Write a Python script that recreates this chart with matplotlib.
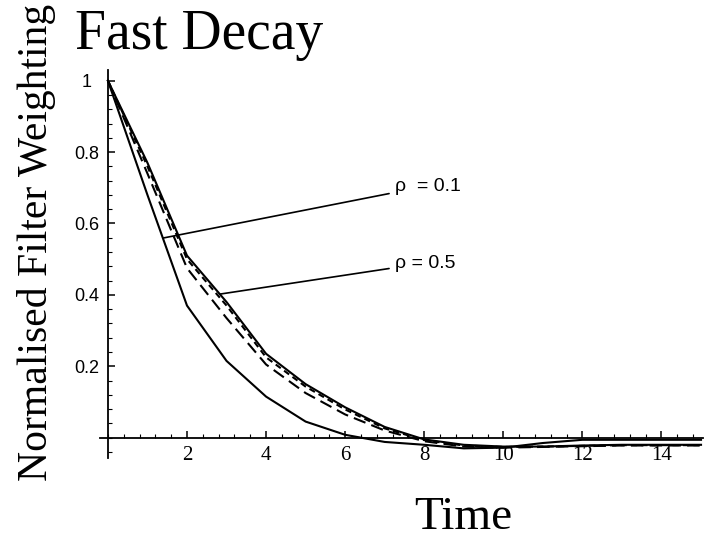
import numpy as np
import matplotlib
matplotlib.use("Agg")
import matplotlib.pyplot as plt
from matplotlib.ticker import FixedLocator, MultipleLocator, FuncFormatter

# filter weights, one value per time step
time = np.arange(0, 16)
rho_01 = [1.0, 0.68, 0.37, 0.215, 0.115, 0.045, 0.008, -0.012, -0.02, -0.03,
          -0.028, -0.015, -0.006, -0.006, -0.006, -0.006]
rho_05_solid = [1.0, 0.77, 0.51, 0.38, 0.235, 0.15, 0.085, 0.03, -0.005, -0.02,
                -0.025, -0.025, -0.022, -0.02, -0.02, -0.02]
rho_05_dash_a = [1.0, 0.76, 0.50, 0.37, 0.225, 0.143, 0.079, 0.026, -0.007, -0.022,
                 -0.026, -0.025, -0.023, -0.021, -0.021, -0.021]
rho_05_dash_b = [1.0, 0.74, 0.475, 0.335, 0.205, 0.125, 0.065, 0.02, -0.01, -0.025,
                 -0.028, -0.026, -0.024, -0.022, -0.022, -0.022]

x_ticks = [2, 4, 6, 8, 10, 12, 14]
y_ticks = [0.2, 0.4, 0.6, 0.8, 1.0]

serif = "Liberation Serif"
sans = "Liberation Sans"

fig = plt.figure(figsize=(7.04, 5.38), dpi=100)
ax = fig.add_axes([100 / 704, 80 / 538, 603 / 704, 388 / 538])

# curves
ax.plot(time, rho_01, color="black", lw=1.5)
ax.plot(time, rho_05_solid, color="black", lw=1.5)
ax.plot(time, rho_05_dash_a, color="black", lw=1.5, dashes=(3, 2))
ax.plot(time, rho_05_dash_b, color="black", lw=1.5, dashes=(6, 3))

ax.set_xlim(-0.2, 15.05)
ax.set_ylim(-0.057, 1.03)

# Mathematica style axes through the origin
for side in ("top", "right"):
    ax.spines[side].set_visible(False)
ax.spines["left"].set_position(("data", 0))
ax.spines["bottom"].set_position(("data", 0))
ax.spines["left"].set_linewidth(1.3)
ax.spines["bottom"].set_linewidth(1.3)

ax.xaxis.set_major_locator(FixedLocator(x_ticks))
ax.xaxis.set_minor_locator(MultipleLocator(0.4))
ax.yaxis.set_major_locator(FixedLocator(y_ticks))
ax.yaxis.set_minor_locator(MultipleLocator(0.04))
ax.yaxis.set_major_formatter(FuncFormatter(lambda v, p: "1" if abs(v - 1) < 1e-9 else f"{v:g}"))

ax.tick_params(axis="both", which="major", direction="in", length=5, width=1.1)
ax.tick_params(axis="both", which="minor", direction="in", length=3, width=0.8)
ax.tick_params(axis="x", which="major", pad=6)
ax.tick_params(axis="y", which="major", pad=15)
for lbl in ax.get_xticklabels():
    lbl.set_fontfamily(serif)
    lbl.set_fontsize(15)
for lbl in ax.get_yticklabels():
    lbl.set_fontfamily(sans)
    lbl.set_fontsize(13)
    lbl.set_horizontalalignment("center")

# labels pointing at the curves
ax.annotate("\u03c1  = 0.1", xy=(1.39, np.interp(1.39, time, rho_01)), xytext=(7.25, 0.705),
            fontsize=14, family=sans, va="center", ha="left",
            arrowprops=dict(arrowstyle="-", color="black", lw=1.2, shrinkA=2, shrinkB=0))
ax.annotate("\u03c1 = 0.5", xy=(2.83, np.interp(2.83, time, rho_05_solid)), xytext=(7.25, 0.489),
            fontsize=14, family=sans, va="center", ha="left",
            arrowprops=dict(arrowstyle="-", color="black", lw=1.2, shrinkA=2, shrinkB=0))

fig.text(75 / 704, 1 - 49 / 538, "Fast Decay", family=serif, fontsize=40, va="baseline", ha="left")
fig.text(37 / 704, 1 - 242 / 538, "Normalised Filter Weighting", family=serif, fontsize=30,
         rotation=90, va="center", ha="center")
fig.text(463 / 704, 1 - 518 / 538, "Time", family=serif, fontsize=34, va="center", ha="center")

fig.savefig("out.png", dpi=100)
